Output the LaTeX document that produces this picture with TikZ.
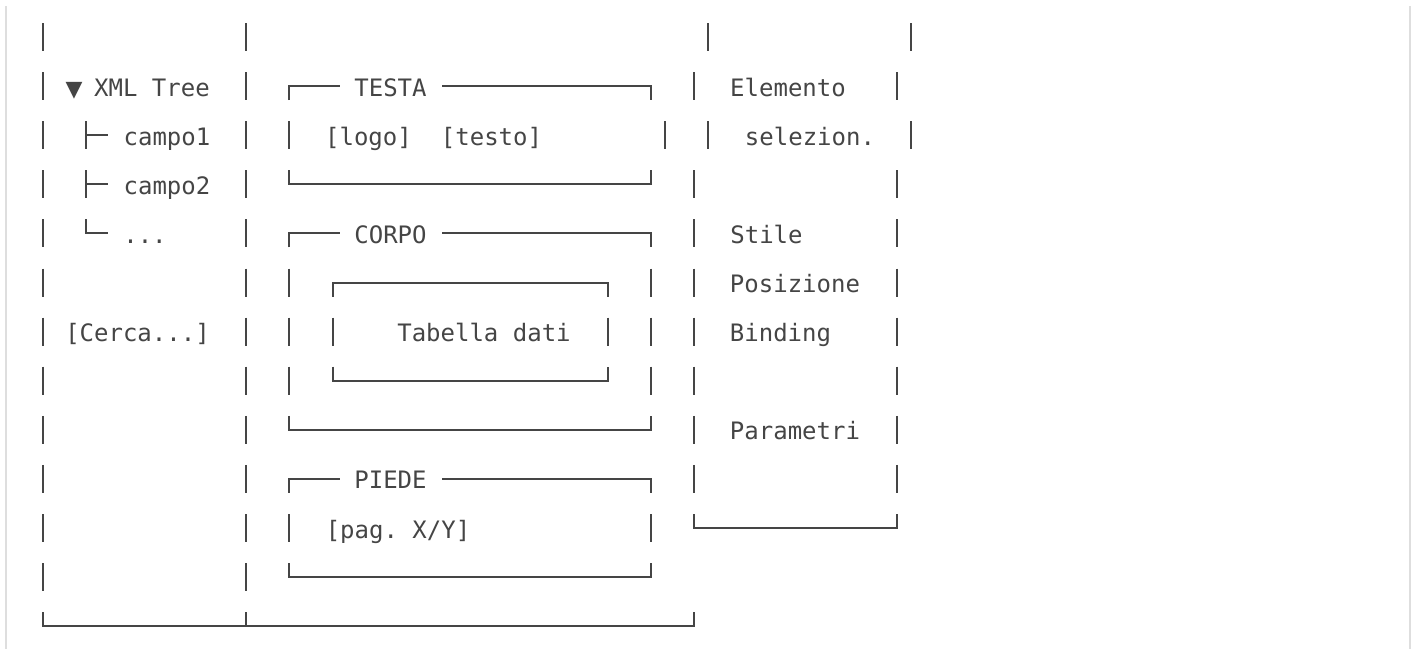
\documentclass[tikz,border=0pt]{standalone}
\usepackage{fontspec}
\setmonofont{DejaVu Sans Mono}
\newfontfamily\symbolfont{DejaVu Sans}
\definecolor{ink}{HTML}{454545}
\definecolor{pageframe}{HTML}{DEDEDE}
\tikzset{
    txt/.style={font=\ttfamily\fontsize{12}{14}\selectfont,text=ink,inner sep=0pt,anchor=base},
    wire/.style={draw=ink,line width=1pt},
}
% centre of a text row, in pixels
\newcommand{\rc}[1]{37+49.1*#1}
% one vertical bar of a row
\newcommand{\vseg}[2]{\draw[wire] (#1,{\rc{#2}-14}) -- (#1,{\rc{#2}+14});}

\begin{document}
\begin{tikzpicture}[x=0.5pt,y=-0.5pt]
    \useasboundingbox (0,0) rectangle (1415,649);
    \draw[pageframe,line width=0.8pt] (6,6) -- (6,649);
    \draw[pageframe,line width=0.8pt] (1410,6) -- (1410,649);

    % left panel
    \foreach \r in {0,...,11} {\vseg{43}{\r} \vseg{246}{\r}}
    \draw[wire] (43,{\rc{12}-14}) -- (43,{\rc{12}}) -- (694,{\rc{12}}) -- (694,{\rc{12}-14});
    \draw[wire] (246,{\rc{12}-14}) -- (246,{\rc{12}});
    \foreach \r in {2,3} {
        \draw[wire] (86,{\rc{\r}-14}) -- (86,{\rc{\r}+14});
        \draw[wire] (86,{\rc{\r}}) -- (108,{\rc{\r}});
    }
    \draw[wire] (86,{\rc{4}-14}) -- (86,{\rc{4}}) -- (108,{\rc{4}});

    \node[txt,font=\symbolfont\fontsize{11}{14}\selectfont] (toggle) at (74,{\rc{1}+10}) {▼};
    \node[txt] (tree) at (152,{\rc{1}+10}) {XML Tree};
    \node[txt] (campo1) at (167,{\rc{2}+10}) {campo1};
    \node[txt] (campo2) at (167,{\rc{3}+10}) {campo2};
    \node[txt] (more) at (145,{\rc{4}+10}) {...};
    \node[txt] (search) at (137.5,{\rc{6}+10}) {[Cerca...]};

    % page sections
    \foreach \r/\t/\n in {1/TESTA/testa,4/CORPO/corpo,9/PIEDE/piede} {
        \draw[wire] (289,{\rc{\r}+14}) -- (289,{\rc{\r}}) -- (340,{\rc{\r}});
        \draw[wire] (442,{\rc{\r}}) -- (651,{\rc{\r}}) -- (651,{\rc{\r}+14});
        \node[txt] (\n) at (390.5,{\rc{\r}+10}) {\t};
    }
    \foreach \r in {3,8,11} {
        \draw[wire] (289,{\rc{\r}-14}) -- (289,{\rc{\r}}) -- (651,{\rc{\r}}) -- (651,{\rc{\r}-14});
    }
    \vseg{289}{2} \vseg{665}{2}
    \foreach \r in {5,6,7,10} {\vseg{289}{\r} \vseg{651}{\r}}

    % table inside the body
    \draw[wire] (333,{\rc{5}+14}) -- (333,{\rc{5}}) -- (608,{\rc{5}}) -- (608,{\rc{5}+14});
    \vseg{333}{6} \vseg{608}{6}
    \draw[wire] (333,{\rc{7}-14}) -- (333,{\rc{7}}) -- (608,{\rc{7}}) -- (608,{\rc{7}-14});

    \node[txt] (logo) at (368.5,{\rc{2}+10}) {[logo]};
    \node[txt] (testo) at (491.5,{\rc{2}+10}) {[testo]};
    \node[txt] (tabella) at (484,{\rc{6}+10}) {Tabella dati};
    \node[txt] (pagina) at (398,{\rc{10}+10}) {[pag. X/Y]};

    % properties panel
    \foreach \r/\x in {0/708,1/694,2/708,3/694,4/694,5/694,6/694,7/694,8/694,9/694} {
        \vseg{\x}{\r} \vseg{\x+203}{\r}
    }
    \draw[wire] (694,{\rc{10}-14}) -- (694,{\rc{10}}) -- (897,{\rc{10}}) -- (897,{\rc{10}-14});

    \node[txt] (elemento) at (788,{\rc{1}+10}) {Elemento};
    \node[txt] (selez) at (810,{\rc{2}+10}) {selezion.};
    \node[txt] (stile) at (766.5,{\rc{4}+10}) {Stile};
    \node[txt] (posizione) at (795,{\rc{5}+10}) {Posizione};
    \node[txt] (binding) at (780.5,{\rc{6}+10}) {Binding};
    \node[txt] (parametri) at (795,{\rc{8}+10}) {Parametri};
\end{tikzpicture}
\end{document}
